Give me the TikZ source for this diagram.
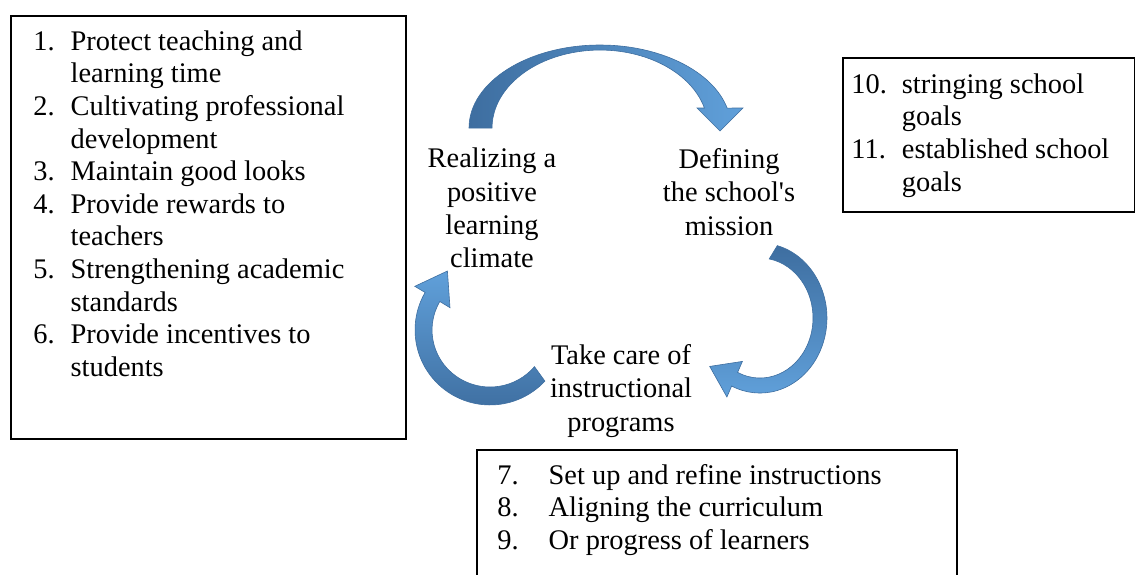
\documentclass[tikz,border=0pt]{standalone}
\usepackage{fontspec}
\setmainfont{Liberation Serif}

\definecolor{arrowdark}{RGB}{62,110,160}
\definecolor{arrowlight}{RGB}{96,160,218}

\tikzset{
  listbox/.style={draw, line width=0.8pt, anchor=north west, inner sep=0pt},
  itemlist/.style={anchor=north west, inner sep=0pt, font=\fontsize{14.2}{16.3}\selectfont},
  stage/.style={align=center, inner sep=0pt, font=\fontsize{14.2}{16.6}\selectfont},
  cyclearrow/.style={draw=arrowdark, line width=0.3pt}
}

\begin{document}
\begin{tikzpicture}[x=0.5pt, y=-0.5pt]
        \useasboundingbox (0,0) rectangle (1135,574);
        \clip (0,0) rectangle (1135,574);

        % frames round the three lists
        \node[listbox, minimum width=197.5pt, minimum height=211.5pt] at (10, 15)(climatebox){};
        \node[listbox, minimum width=146pt, minimum height=77pt] at (842, 57)(missionbox){};
        \node[listbox, minimum width=240pt, minimum height=90pt] at (476, 449)(programbox){};

        \node[itemlist] at (33, 27)(climatelist){%
          \begin{tabular}{@{}l@{\hspace{8pt}}l@{}}
            1. & Protect teaching and\\
               & learning time\\
            2. & Cultivating professional\\
               & development\\
            3. & Maintain good looks\\
            4. & Provide rewards to\\
               & teachers\\
            5. & Strengthening academic\\
               & standards\\
            6. & Provide incentives to\\
               & students
          \end{tabular}};
        \node[itemlist] at (851, 70)(missionlist){%
          \begin{tabular}{@{}l@{\hspace{7.5pt}}l@{}}
            10. & stringing school\\
                & goals\\
            11. & established school\\
                & goals
          \end{tabular}};
        \node[itemlist] at (497, 461)(programlist){%
          \begin{tabular}{@{}l@{\hspace{15pt}}l@{}}
            7. & Set up and refine instructions\\
            8. & Aligning the curriculum\\
            9. & Or progress of learners
          \end{tabular}};

        % the three stages of the cycle
        \node[stage] at (492, 208)(climate){Realizing a\\positive\\learning\\climate};
        \node[stage] at (729, 192)(mission){Defining\\the school\textquotesingle s\\mission};
        \node[stage] at (621, 391)(programs){Take care of\\instructional\\programs};

        % curved block arrows between the stages
        \path[cyclearrow, left color=arrowdark, right color=arrowlight]
          (469,128) arc[start angle=180, end angle=346.1, x radius=131, y radius=83]
          -- (743,108) -- (720,131) -- (697,108) -- (704.4,108)
          arc[start angle=345.1, end angle=180, x radius=108, y radius=78] -- cycle;
        \path[cyclearrow, top color=arrowdark, bottom color=arrowlight]
          (777.3,245.6) arc[start angle=285, end angle=475, x radius=67, y radius=75]
          -- (726.9,397) -- (709.7,366.4) -- (742.4,361.4) -- (737.6,372.4)
          arc[start angle=475, end angle=280, x radius=53, y radius=60] -- cycle;
        \path[cyclearrow, top color=arrowlight, bottom color=arrowdark]
          (544.9,381.1) arc[start angle=43, end angle=210, radius=75]
          -- (414.8,286.3) -- (447.4,271) -- (450,307.7) -- (439.8,301.5)
          arc[start angle=210, end angle=40, x radius=58, y radius=57] -- cycle;
\end{tikzpicture}
\end{document}
